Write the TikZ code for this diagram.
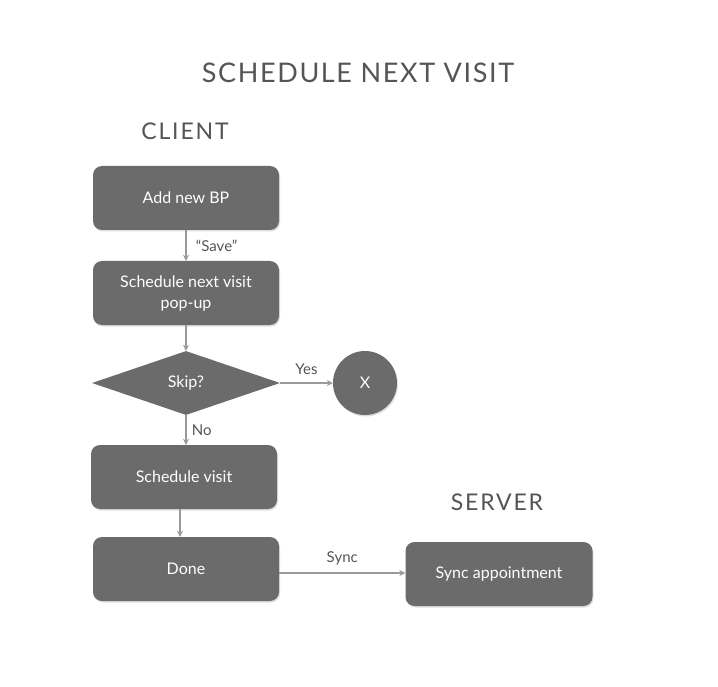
\documentclass[tikz,border=0pt]{standalone}
\usepackage{fontspec}
\setmainfont{Lato}
\usetikzlibrary{shapes.geometric,arrows.meta,shadows}
\definecolor{boxfill}{HTML}{6B6B6B}
\definecolor{arrowgray}{HTML}{9A9A9A}
\definecolor{titlegray}{HTML}{555555}
\tikzset{
  box/.style={draw=none, fill=boxfill, rounded corners=9pt, minimum width=186pt, minimum height=64pt, text=white, font=\fontsize{16}{21}\selectfont, align=center, drop shadow={shadow xshift=1pt, shadow yshift=-1.5pt, opacity=0.25}},
  flowarrow/.style={draw=arrowgray, line width=1.1pt, -{Stealth[length=6pt,width=6pt]}},
  lbl/.style={text=titlegray, font=\fontsize{15}{17}\selectfont},
  heading/.style={text=titlegray, font=\fontsize{23}{26}\selectfont\addfontfeature{LetterSpace=8}},
}
\begin{document}
\begin{tikzpicture}[x=1pt,y=-1pt]
\useasboundingbox[fill=white] (0,0) rectangle (718,687);
\node[text=titlegray, font=\fontsize{27}{30}\selectfont\addfontfeature{LetterSpace=6}] (title) at (358,73) {SCHEDULE NEXT VISIT};
\node[heading] (client) at (185,131) {CLIENT};
\node[heading] (server) at (497,502) {SERVER};
\node[box] (add) at (186,198) {Add new BP};
\node[box] (popup) at (186,293) {Schedule next visit\\pop-up};
\node[draw=none, fill=boxfill, diamond, aspect=2.9, minimum width=188pt, minimum height=64pt, inner sep=0pt, text=white, font=\fontsize{16}{21}\selectfont] (skip) at (186,383) {Skip?};
\node[draw=none, fill=boxfill, circle, minimum size=64pt, text=white, font=\fontsize{16}{21}\selectfont, drop shadow={shadow xshift=1pt, shadow yshift=-1.5pt, opacity=0.25}] (x) at (365,383) {X};
\node[box] (sched) at (184,477) {Schedule visit};
\node[box] (done) at (186,569) {Done};
\node[box, minimum width=187pt] (sync) at (499,574) {Sync appointment};
\draw[flowarrow] (add.south) -- (popup.north) node[midway, right=6pt, lbl] {“Save”};
\draw[flowarrow] (popup.south) -- (skip.north);
\draw[flowarrow] (skip.east) -- (x.west) node[midway, above=4pt, lbl] {Yes};
\draw[flowarrow] (skip.south) -- (skip.south |- sched.north) node[midway, right=2pt, lbl] {No};
\draw[flowarrow] ([xshift=-4pt]sched.south) -- ([xshift=-4pt]sched.south |- done.north);
\draw[flowarrow] ([yshift=-4pt]done.east) -- ([yshift=-4pt]done.east -| sync.west) node[midway, above=4pt, lbl] {Sync};
\end{tikzpicture}
\end{document}
